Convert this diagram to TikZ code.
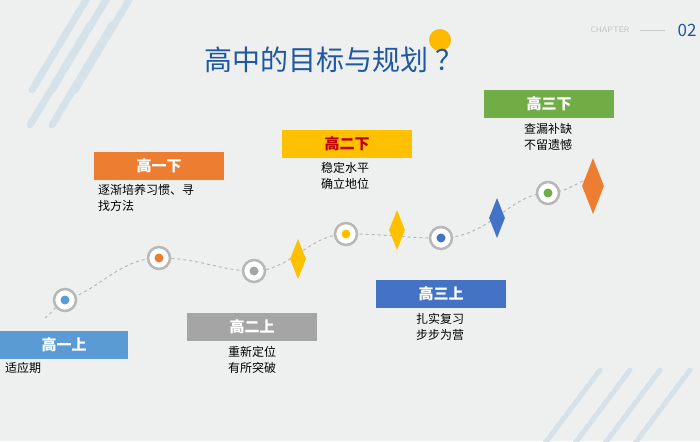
\documentclass[tikz,border=0pt]{standalone}
\usepackage{fontspec}
\setmainfont{Noto Sans CJK SC}
\usetikzlibrary{calc}
\definecolor{bgc}{RGB}{238,240,239}
\definecolor{stripe}{RGB}{214,226,234}
\definecolor{titleblue}{RGB}{31,88,160}
\definecolor{cblue}{RGB}{91,155,213}
\definecolor{corange}{RGB}{237,125,49}
\definecolor{cgray}{RGB}{165,165,165}
\definecolor{cgold}{RGB}{255,192,0}
\definecolor{cdblue}{RGB}{68,114,196}
\definecolor{cgreen}{RGB}{112,173,71}
\definecolor{cred}{RGB}{192,0,0}
\tikzset{
  stage/.style={minimum width=130pt,minimum height=28pt,inner sep=0pt,font=\fontsize{15}{15}\selectfont\bfseries,text=white},
  note/.style={font=\fontsize{12}{16}\selectfont,align=left,inner sep=0pt},
  dot/.style={circle,draw=cgray!80,line width=2.5pt,fill=white,minimum size=22pt,inner sep=0pt},
  gem/.style={diamond,minimum width=16pt,minimum height=40pt,inner sep=0pt,aspect=0.4}
}
\usetikzlibrary{shapes.geometric}
\begin{document}
\begin{tikzpicture}[x=1pt,y=-1pt]
  \fill[bgc] (0,0) rectangle (700,441);
  \useasboundingbox (0,0) rectangle (700,441);
  % stripes
  \foreach \a/\b in {0/45,22/45,72/10,92/10,115/10}
    \draw[stripe,line width=7pt,line cap=round] (\a+\b*2,\b-20) -- (\a+\b*2-60,\b+80);
  \foreach \a in {600,630,660,690}
    \draw[stripe,line width=5pt,line cap=round] (\a,370) -- (\a-60,450);
  % title
  \fill[cgold!90!orange] (440,40) circle (11);
  \node[text=titleblue,font=\fontsize{28}{28}\selectfont] (title) at (334,60) {高中的目标与规划 ？};
  \node[text=cgray!70,font=\fontsize{8}{8}\selectfont\sffamily] (chap) at (610,30) {CHAPTER};
  \draw[cgray!60] (640,30) -- (665,30);
  \node[text=titleblue,font=\fontsize{17}{17}\selectfont] (num) at (687,30) {02};
  % path
  \draw[cgray!80,dashed,line width=1pt] (45,318) .. controls (55,310) and (60,300) .. (65,300)
    .. controls (100,290) and (120,258) .. (159,258)
    .. controls (200,258) and (220,271) .. (254,271)
    .. controls (290,271) and (310,234) .. (346,234)
    .. controls (390,234) and (400,238) .. (441,238)
    .. controls (490,238) and (510,193) .. (548,193)
    .. controls (565,193) and (578,182) .. (590,178);
  \foreach \n/\x/\y/\c in {p1/65/300/cblue,p2/159/258/corange,p3/254/271/cgray,p4/346/234/cgold,p5/441/238/cdblue,p6/548/193/cgreen}{
    \node[dot] (\n) at (\x,\y) {};
    \fill[\c] (\n) circle (4.5);
  }
  \node[gem,fill=cgold] (g1) at (298,259) {};
  \node[gem,fill=cgold] (g2) at (397,230) {};
  \node[gem,fill=cdblue] (g3) at (497,218) {};
  \node[gem,fill=corange,minimum width=22pt,minimum height=56pt] (g4) at (593,186) {};
  % stages
  \node[stage,fill=cblue,minimum width=128pt,anchor=north west] (s1) at (0,331) {高一上};
  \node[note,anchor=north west] (t1) at (5,362) {适应期};
  \node[stage,fill=corange,anchor=north west] (s2) at (94,152) {高一下};
  \node[note,anchor=north west] (t2) at (98,184) {逐渐培养习惯、寻\\找方法};
  \node[stage,fill=cgray,anchor=north west] (s3) at (187,313) {高二上};
  \node[note,anchor=north] (t3) at (252,346) {重新定位\\有所突破};
  \node[stage,fill=cgold,text=cred,anchor=north west] (s4) at (282,130) {高二下};
  \node[note,anchor=north] (t4) at (345,162) {稳定水平\\确立地位};
  \node[stage,fill=cdblue,anchor=north west] (s5) at (376,280) {高三上};
  \node[note,anchor=north] (t5) at (440,313) {扎实复习\\步步为营};
  \node[stage,fill=cgreen,anchor=north west] (s6) at (484,90) {高三下};
  \node[note,anchor=north] (t6) at (548,123) {查漏补缺\\不留遗憾};
\end{tikzpicture}
\end{document}
